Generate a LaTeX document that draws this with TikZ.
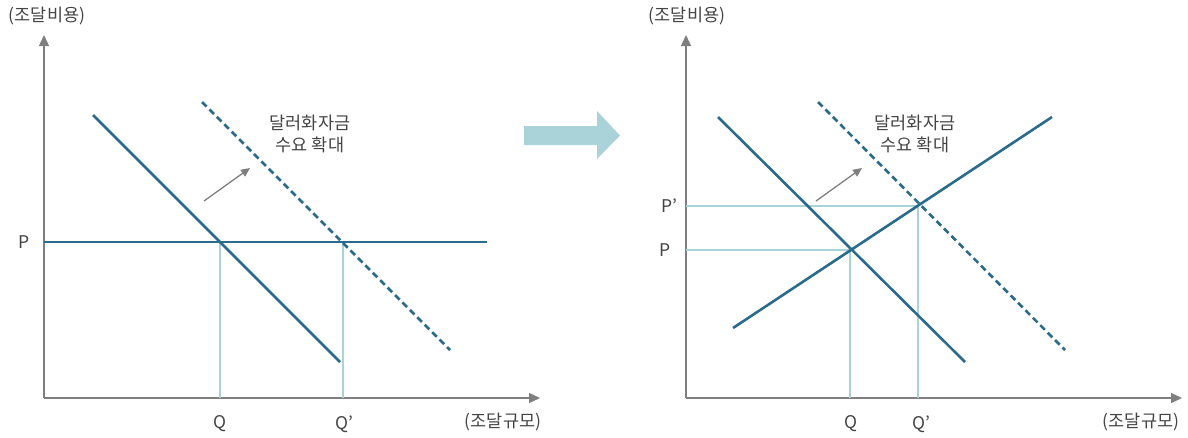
\documentclass[tikz,border=0pt]{standalone}
\usepackage{fontspec}
\setmainfont{Noto Sans CJK KR}
\usetikzlibrary{arrows.meta}
\definecolor{dteal}{HTML}{2A6A8A}
\definecolor{lblue}{HTML}{A9D3D9}
\definecolor{axgray}{HTML}{7F7F7F}
\definecolor{txt}{HTML}{444444}
\tikzset{
  axis/.style={draw=axgray,line width=1.4pt,-{Triangle[length=11pt,width=10pt]}},
  curve/.style={draw=dteal,line width=2.6pt},
  dcurve/.style={draw=dteal,line width=2.6pt,dash pattern=on 6.5pt off 4pt},
  guide/.style={draw=lblue,line width=2.6pt},
  shiftarr/.style={draw=axgray,line width=1.3pt,-{Triangle[length=9pt,width=8pt]}},
  lbl/.style={text=txt,font=\fontsize{17.5}{21}\selectfont,inner sep=0pt},
}
\begin{document}
\begin{tikzpicture}[x=1pt,y=-1pt]
\useasboundingbox (0,0) rectangle (1188,437);
% ---------- left panel ----------
\coordinate (lo) at (44,398);
\coordinate (lyt) at (44,35);
\coordinate (lxt) at (540,398);
\draw[axis] (lo) -- (lyt);
\draw[axis] (lo) -- (lxt);
\node[lbl] (lylab) at (47,16) {(조달비용)};
\node[lbl] (lxlab) at (503,422) {(조달규모)};
\coordinate (lPs) at (44,242);
\coordinate (lPe) at (487,242);
\coordinate (lq1) at (220,242);
\coordinate (lq1b) at (220,398);
\coordinate (lq2) at (343,242);
\coordinate (lq2b) at (343,398);
\draw[guide] (lq1) -- (lq1b);
\draw[guide] (lq2) -- (lq2b);
\draw[curve] (lPs) -- (lPe);
\coordinate (ld1) at (93,115);
\coordinate (ld2) at (340,362);
\draw[curve] (ld1) -- (ld2);
\coordinate (ldd1) at (202,102);
\coordinate (ldd2) at (450,350);
\draw[dcurve] (ldd1) -- (ldd2);
\coordinate (la1) at (204,201);
\coordinate (la2) at (250,168);
\draw[shiftarr] (la1) -- (la2);
\node[lbl,align=center] (lt) at (310,134) {달러화자금\\[1pt]수요 확대};
\node[lbl] (lP) at (24,242) {P};
\node[lbl] (lQ) at (220,424) {Q};
\node[lbl] (lQ2) at (344,424) {Q’};
% ---------- big arrow ----------
\fill[lblue] (524,126) -- (597,126) -- (597,111) -- (620,135.5) -- (597,159) -- (597,145) -- (524,145) -- cycle;
% ---------- right panel ----------
\coordinate (ro) at (686,398);
\coordinate (ryt) at (686,35);
\coordinate (rxt) at (1182,398);
\draw[axis] (ro) -- (ryt);
\draw[axis] (ro) -- (rxt);
\node[lbl] (rylab) at (687,16) {(조달비용)};
\node[lbl] (rxlab) at (1141,422) {(조달규모)};
\coordinate (rP2s) at (686,206);
\coordinate (rP2e) at (918,206);
\coordinate (rPs) at (686,250);
\coordinate (rPe) at (850,250);
\coordinate (rq1b) at (850,398);
\coordinate (rq2b) at (918,398);
\draw[guide] (rP2s) -- (rP2e) -- (rq2b);
\draw[guide] (rPs) -- (rPe) -- (rq1b);
\coordinate (rd1) at (718,117);
\coordinate (rd2) at (965,362);
\draw[curve] (rd1) -- (rd2);
\coordinate (rdd1) at (818,102);
\coordinate (rdd2) at (1065,350);
\draw[dcurve] (rdd1) -- (rdd2);
\coordinate (rs1) at (733,328);
\coordinate (rs2) at (1052,117);
\draw[curve] (rs1) -- (rs2);
\coordinate (ra1) at (816,201);
\coordinate (ra2) at (862,168);
\draw[shiftarr] (ra1) -- (ra2);
\node[lbl,align=center] (rt) at (915,134) {달러화자금\\[1pt]수요 확대};
\node[lbl] (rP2) at (669,206) {P’};
\node[lbl] (rP) at (665,250) {P};
\node[lbl] (rQ) at (851,424) {Q};
\node[lbl] (rQ2) at (921,424) {Q’};
\end{tikzpicture}
\end{document}
